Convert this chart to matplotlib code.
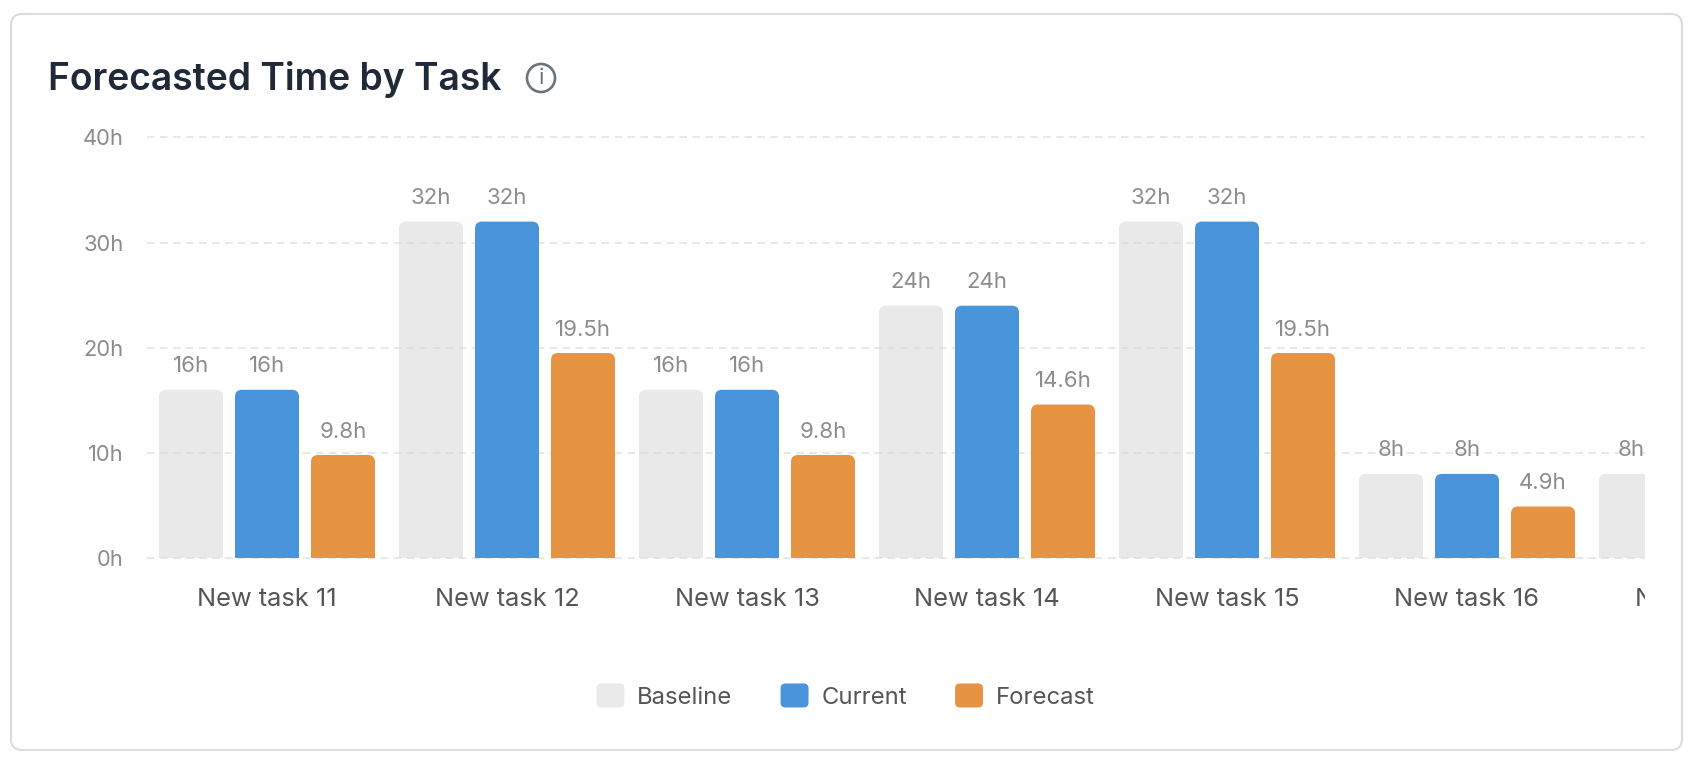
import matplotlib
matplotlib.use('Agg')
import matplotlib.pyplot as plt
from matplotlib.patches import FancyBboxPatch, Circle, PathPatch, Patch
from matplotlib.path import Path
from matplotlib.legend_handler import HandlerPatch
from matplotlib.transforms import Bbox

W, H = 1698, 759

# Data
tasks = ['New task 11', 'New task 12', 'New task 13', 'New task 14',
         'New task 15', 'New task 16', 'New task 17']
baseline = [16, 32, 16, 24, 32, 8, 8]
current = [16, 32, 16, 24, 32, 8]
forecast = [9.8, 19.5, 9.8, 14.6, 19.5, 4.9]
y_ticks = [0, 10, 20, 30, 40]
y_labels = ['0h', '10h', '20h', '30h', '40h']

plt.rcParams['font.family'] = ['Inter', 'DejaVu Sans']

GREY = '#d5d5d5'
BLUE = '#4a94dc'
ORANGE = '#e69344'
LABEL = '#8c8c8c'
DARK = '#555555'

fig = plt.figure(figsize=(W / 100, H / 100), dpi=100, facecolor='white')

# Overlay in pixel coordinates for the card, title and icon
bg = fig.add_axes([0, 0, 1, 1], zorder=0)
bg.set_xlim(0, W)
bg.set_ylim(H, 0)
bg.axis('off')
bg.add_patch(FancyBboxPatch((11, 14), 1671, 736,
                            boxstyle='round,pad=0,rounding_size=11',
                            fc='white', ec='#d9dde0', lw=1.5))
bg.text(48, 80, 'Forecasted Time by Task', fontsize=26.8, fontweight='semibold',
        color='#1f2937', va='center', ha='left')
bg.add_patch(Circle((541, 78), 14, fc='none', ec='#6b7280', lw=1.9))
bg.text(541, 78.5, 'i', fontsize=16, color='#6b7280', ha='center', va='center')

# Plot area
left, right, top, bottom = 147, 1645, 137.5, 558
ax = fig.add_axes([left / W, 1 - bottom / H, (right - left) / W, (bottom - top) / H],
                  zorder=1)
ax.patch.set_alpha(0)
for s in ax.spines.values():
    s.set_visible(False)

ax.set_yticks(y_ticks)
ax.set_yticklabels(y_labels)
ax.tick_params(axis='y', length=0, pad=17, labelsize=15.8, labelcolor=LABEL)
ax.set_xticks(range(len(tasks) - 1))
ax.set_xticklabels(tasks[:-1])
ax.tick_params(axis='x', length=0, pad=21.7, labelsize=18.3, labelcolor=DARK)
ax.set_axisbelow(True)
ax.yaxis.grid(True, color='#e2e2e2', lw=1.1, linestyle=(0, (5, 3.5)))
for line in ax.get_ygridlines():
    line.set_clip_on(False)

ax.set_xlim(-0.5, (right - left) / 240 - 0.5)
ax.set_ylim(0, 40)

# The last task runs off the scrolling plot area, a tick there would be dropped
last_label = ax.annotate(tasks[-1], (6, 0), xytext=(0, -21.7), textcoords='offset points',
                         ha='center', va='top', fontsize=18.3, color=DARK,
                         annotation_clip=False)
last_label.set_clip_on(True)
last_label.set_clip_box(Bbox([[0, 0], [right, H]]))

px_x = 240
px_y = (bottom - top) / 40
bar_w = 64 / 240
step = 76 / 240
radius = 7


def rounded_bar(x, h, color, alpha=1.0):
    # bar with rounded top corners, radius kept in pixels
    rx = radius / px_x
    ry = radius / px_y
    x0, x1 = x - bar_w / 2, x + bar_w / 2
    verts = [(x0, 0), (x0, h - ry), (x0, h), (x0 + rx, h), (x1 - rx, h),
             (x1, h), (x1, h - ry), (x1, 0), (x0, 0)]
    codes = [Path.MOVETO, Path.LINETO, Path.CURVE3, Path.CURVE3, Path.LINETO,
             Path.CURVE3, Path.CURVE3, Path.LINETO, Path.CLOSEPOLY]
    ax.add_patch(PathPatch(Path(verts, codes), fc=color, ec='none', alpha=alpha, zorder=2))
    ax.annotate(f'{h:g}h', (x, h), xytext=(0, 9.7), textcoords='offset points',
                ha='center', va='bottom', fontsize=16, color=LABEL,
                annotation_clip=False, zorder=3)


for i, v in enumerate(baseline):
    rounded_bar(i - step, v, GREY, alpha=0.5)
for i, v in enumerate(current):
    rounded_bar(i, v, BLUE)
for i, v in enumerate(forecast):
    rounded_bar(i + step, v, ORANGE)


def round_handle(legend, orig_handle, xdescent, ydescent, width, height, fontsize):
    return FancyBboxPatch((-xdescent, -ydescent), width, height,
                          boxstyle='round,pad=0,rounding_size=3.5',
                          fc=orig_handle.get_facecolor(), ec='none')


handles = [Patch(fc='#eaeaea', label='Baseline'), Patch(fc=BLUE, label='Current'),
           Patch(fc=ORANGE, label='Forecast')]
leg = fig.legend(handles=handles, ncol=3, loc='center',
                 bbox_to_anchor=(845.5 / W, 1 - 696 / H), frameon=False, fontsize=17.2,
                 labelcolor=DARK, handlelength=1.17, handleheight=1.17,
                 handletextpad=0.53, columnspacing=2.02, borderpad=0,
                 handler_map={Patch: HandlerPatch(patch_func=round_handle)})

fig.savefig('out.png', dpi=100)
